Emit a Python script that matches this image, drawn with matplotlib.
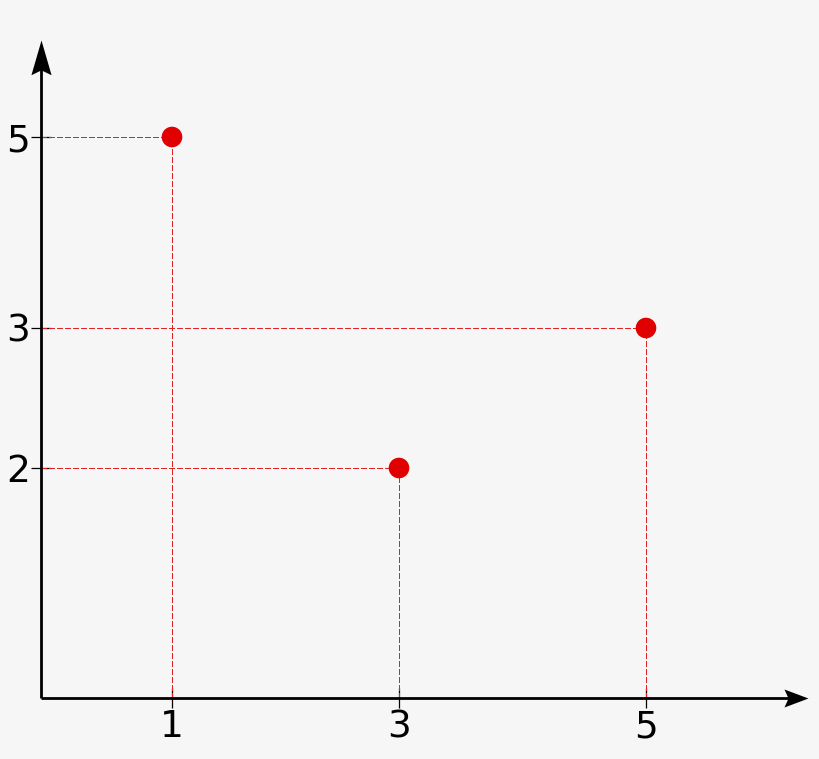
import numpy as np
import matplotlib.pyplot as plt
from matplotlib.path import Path

# 점 데이터
xs = [1, 5, 3]
ys = [5, 3, 2]
x_ticks = [1, 3, 5]
y_ticks = [2, 3, 5]

bg = '#f6f6f6'
red = '#e00000'
dash_red = '#e02424'

# 눈금 간격이 일정하지 않은 원본 그림에 맞춘 구간별 선형 축척
x_knots_v = [0, 1, 3, 5, 6.3]
x_knots_p = [0, 131, 358, 605, 767]
y_knots_v = [0, 2, 3, 5, 6.0]
y_knots_p = [0, 230, 370, 561, 658]


def make_scale(kv, kp):
    fwd = lambda v: np.interp(v, kv, kp)
    inv = lambda p: np.interp(p, kp, kv)
    return fwd, inv


def stealth(angle, half_w, notch):
    # 끝이 원점인 오목한 화살촉 경로
    v = np.array([[0, 0], [-1, half_w], [-notch, 0], [-1, -half_w], [0, 0]])
    a = np.deg2rad(angle)
    rot = np.array([[np.cos(a), -np.sin(a)], [np.sin(a), np.cos(a)]])
    v = v @ rot.T
    return Path(v, [Path.MOVETO, Path.LINETO, Path.LINETO, Path.LINETO, Path.CLOSEPOLY])


fig = plt.figure(figsize=(8.2, 7.59), dpi=100, facecolor=bg)
ax = fig.add_axes([41 / 820, 61 / 759, 767 / 820, 658 / 759])
ax.set_facecolor(bg)
ax.set_xscale('function', functions=make_scale(x_knots_v, x_knots_p))
ax.set_yscale('function', functions=make_scale(y_knots_v, y_knots_p))
ax.set_xlim(0, 6.3)
ax.set_ylim(0, 6.0)

# 점선 가이드 (안티앨리어싱 끄고 1px 선명하게)
for x, y in zip(xs, ys):
    ax.plot([0, x], [y, y], color=dash_red, lw=0.8, ls=(0, (4.6, 2.3)),
            antialiased=False, zorder=2)
    ax.plot([x, x], [0, y], color=dash_red, lw=0.8, ls=(0, (4.6, 2.3)),
            antialiased=False, zorder=2)

ax.scatter(xs, ys, s=220, color=red, zorder=5, clip_on=False, edgecolors='none')

# 화살표 축
for sp in ax.spines.values():
    sp.set_visible(False)
ax.plot([0, 0.985], [0, 0], color='black', lw=2, transform=ax.transAxes,
        clip_on=False, solid_capstyle='butt', zorder=4)
ax.plot([0, 0], [0, 0.98], color='black', lw=2, transform=ax.transAxes,
        clip_on=False, solid_capstyle='butt', zorder=4)
ax.plot([1], [0], marker=stealth(0, 0.375, 0.83), ms=34.6, color='black', mew=0,
        transform=ax.transAxes, clip_on=False, zorder=4)
ax.plot([0], [1], marker=stealth(90, 0.29, 0.86), ms=50, color='black', mew=0,
        transform=ax.transAxes, clip_on=False, zorder=4)

ax.set_xticks(x_ticks)
ax.set_yticks(y_ticks)
ax.set_xticklabels([str(t) for t in x_ticks])
ax.set_yticklabels([str(t) for t in y_ticks])
ax.minorticks_off()
ax.tick_params(direction='inout', length=14, width=0.9, labelsize=27, pad=1)

fig.savefig('out.png', dpi=100, facecolor=bg)
